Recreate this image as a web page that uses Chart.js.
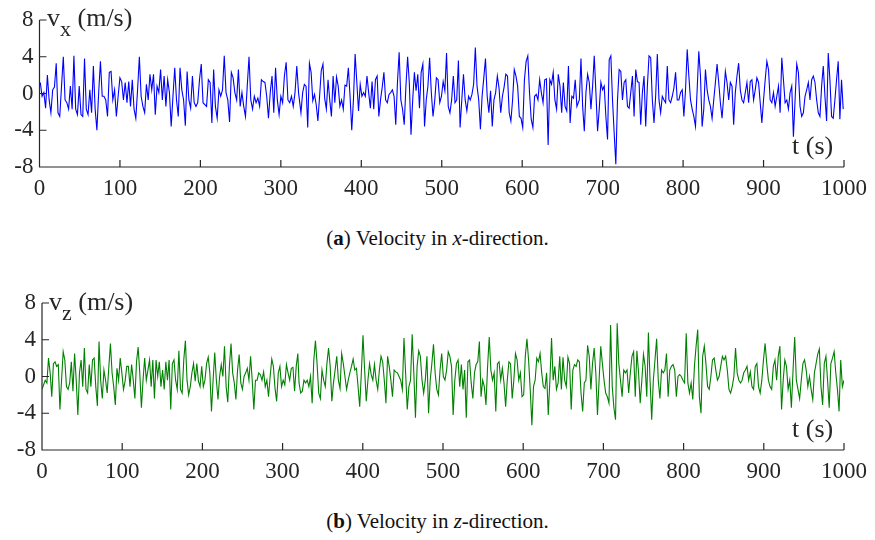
<!DOCTYPE html>
<html>
<head>
<meta charset="utf-8">
<script src="https://cdn.jsdelivr.net/npm/chart.js@4.4.1/dist/chart.umd.min.js"></script>
<style>
  html, body { margin: 0; padding: 0; background: #fff; }
  #wrap { position: relative; width: 875px; height: 540px; overflow: hidden; font-family: "Liberation Serif", serif; color: #262626; }
  canvas { position: absolute; left: 0; }
  .lbl { position: absolute; font-size: 26px; line-height: 26px; white-space: nowrap; }
  .lbl sub { font-size: 22px; vertical-align: -10px; line-height: 0; }
  .cap { position: absolute; left: 0; width: 875px; text-align: center; font-size: 21px; line-height: 22px; color: #111; }
</style>
</head>
<body>
<div id="wrap">
  <canvas id="vxChart" width="875" height="205" style="top:0"></canvas>
  <canvas id="vzChart" width="875" height="205" style="top:283px"></canvas>
  <div class="lbl" style="left:47px; top:5px">v<sub>x</sub> (m/s)</div>
  <div class="lbl" style="left:792px; top:133px">t (s)</div>
  <div class="cap" style="top:227px">(<b>a</b>) Velocity in <i>x</i>-direction.</div>
  <div class="lbl" style="left:49px; top:289px">v<sub>z</sub> (m/s)</div>
  <div class="lbl" style="left:792px; top:416px">t (s)</div>
  <div class="cap" style="top:510px">(<b>b</b>) Velocity in <i>z</i>-direction.</div>
</div>
<script>
// x ticks (s) and y ticks (m/s)
const xTicks = [0, 100, 200, 300, 400, 500, 600, 700, 800, 900, 1000];
const yTicks = [-8, -4, 0, 4, 8];

// vx, in three pieces, each with its time span (s)
const vxSpans = [[1, 322], [325, 668], [671, 999]];
const vx1 = [
  1.2, -0.3, 0.1, -1.6, 2.0, -0.7, -2.1, 0.4, 0.7, 3.3,
  -2.1, -2.5, 0.8, 4.0, -0.7, -1.0, -1.7, 0.8, -1.7, 4.1,
  -1.7, -2.3, 0.8, -2.3, -2.5, 3.8, -1.7, -2.3, 0.4, -2.1,
  3.0, -1.7, -4.0, 0.1, 3.5, -0.3, -0.3, -0.7, -2.5, 2.3,
  2.4, -0.7, 0.4, -2.5, -0.3, 1.7, 1.3, -0.7, 1.2, -1.0,
  1.3, -1.4, 1.5, -1.7, -2.7, 0.4, 4.0, -0.3, -1.4, -2.1,
  1.0, -0.7, 2.1, 0.4, 2.1, -2.3, 0.8, 0.1, 2.6, -0.7,
  1.9, -1.4, 1.5, 0.1, -3.6, -0.3, 2.8, -0.7, -2.5, 2.8,
  0.4, -0.7, -3.5, 2.4, -0.7, -1.6, 1.9, -1.0, -1.4, -1.0,
  1.5, 3.2, -1.0, -1.2, -1.4, 1.5, 1.2, -3.2, 2.6, -1.4,
  -2.7, 0.4, -0.3, 0.4, 4.1, 0.1, -0.7, -3.1, 2.3, 1.7,
  0.1, -0.7, 2.6, -1.4, 0.1, -1.4, -2.5, 0.8, 4.0, -0.7,
  -1.7, -0.3, -1.0, -0.5, -1.4, 1.5, 1.3, 1.2, -0.3, -2.7,
  0.1, 1.9, -2.1, 2.8, -0.7, -2.3, -0.3, -1.0,
  1.9, 3.4, -0.7, -1.0, -0.3, -1.4, 0.1, 3.0, 0.1
];
const vx2 = [
  -2.1, 0.1, 1.0, 0.8, -3.7, 3.3, 2.3, -0.8, -0.1, -1.2,
  -3.0, -0.3, 2.5, 3.2, -0.5, -1.7, 1.5, -0.7, -2.5, 1.9,
  -1.0, 1.8, 0.8, -1.4, -0.7, -1.7, 0.9, 0.8, 2.8, -0.3,
  -4.0, -0.7, 4.3, 1.2, -1.9, 1.0, -0.3, 0.1, -0.3, 1.9,
  0.1, -1.6, 1.3, -1.7, 1.5, 1.9, -2.5, -0.7, 0.7, 2.3,
  -0.7, -1.0, -0.1, 0.1, 0.4, -0.3, -3.4, 1.2, 4.5, -0.7,
  -1.7, -3.4, 0.8, 4.0, 1.2, -4.5, -0.7, 2.3, 0.3, 2.1,
  -1.6, 2.3, 3.2, -3.6, -0.7, 0.8, 3.9, 0.1, -2.5, -0.8,
  1.7, 1.5, -1.0, -0.3, 1.3, 0.3, 4.4, -1.4, -2.1, -0.7,
  1.9, -1.0, -0.7, 3.6, -3.7, -0.7, 2.1, -0.7, -1.9, -0.3,
  -0.7, -0.1, 1.0, 5.0, 0.8, -0.7, -3.9, -0.3, 1.7, 3.8,
  -0.3, -2.1, 0.3, -3.6, -0.7, 0.1, 1.9, 0.6, -2.1, -0.3,
  0.7, 2.1, 1.9, -2.1, -3.0, -0.7, 2.6, 1.9, 0.8, -2.5,
  -2.7, -3.7, 1.5, 3.5, 4.1, 0.1, -2.8, -3.7, -0.3, -0.1,
  -0.7, 1.5, 0.1, -1.0, 1.5, 1.6, -5.6, 1.5, 1.0, 2.3,
  -0.7, -1.7, 2.1, 0.8, -2.1, 1.2, -1.4, -1.9, 3.0, -3.2,
  -0.3, -0.5, 1.5, -1.4
];
const vx3 = [
  -0.7, 3.8, -1.4, -4.1, 0.1, 2.1, 1.2, -1.7, 0.8, 4.1,
  0.1, -4.1, -1.7, 1.2, 0.4, 0.8, -2.5, -5.0, 3.7, 4.1,
  -0.7, -4.3, -7.7, -0.7, 2.6, 2.4, -0.7, 1.2, 1.5, -1.4,
  -1.6, 0.1, 1.9, -2.5, 2.6, 1.3, 1.2, -3.4, 0.1, 1.9,
  -3.6, 0.8, 4.1, 3.9, -0.7, -3.2, -0.3, 4.3, -0.7, -2.1,
  -0.3, -0.7, -1.0, 3.0, -0.7, -1.0, -0.3, 0.6, 2.3, -0.7,
  -0.7, 0.1, 0.4, -2.5, 0.4, 4.8, 1.9, -0.7, -1.7, -2.5,
  -3.6, 0.4, 4.6, 1.9, -3.6, -1.7, 2.6, 0.4, -0.7, -1.4,
  -2.7, -0.7, 1.2, 3.2, 1.2, -1.0, -2.7, -0.3, 2.4, 1.2,
  -0.7, 1.2, 0.8, -3.4, 0.1, 1.9, 3.3, 0.4, -0.7, -1.0,
  0.1, 1.2, -1.0, 1.3, 1.5, -0.7, 0.4, 1.7, 1.2, -1.0,
  -3.2, -0.7, 1.5, 3.5, 2.6, -0.7, -1.0, 0.1, -1.4, -0.3,
  0.8, -2.1, 3.9, 1.5, -1.0, -0.7, -1.7, 0.1, 0.8, -4.7,
  -0.7, 3.2, 2.3, -1.4, -2.5, -2.1, -0.3, 0.4, 1.2, -0.7,
  1.5, 1.9, 1.2, -0.7, -2.1, -2.5, 0.8, 3.0, -0.3, -3.0,
  4.4, 1.5, -2.5, -2.7, -0.7, 1.5, 3.5, -2.8, 1.5, -1.7
];

// vz
const vzSpans = [[0, 319], [320.5, 666], [668, 1000]];
const vz1 = [
  -1.4, -0.9, -0.4, -0.7, 2.0, 0.4, -2.2, 1.4, 1.6, 1.1,
  1.3, -3.6, -0.4, 2.7, 1.8, -1.1, -1.4, -0.7, 1.6, -1.6,
  2.5, -0.4, -4.2, 0.4, 1.8, -1.1, 3.1, -1.4, -1.8, 1.3,
  -1.1, 1.8, 2.0, -1.1, -3.2, 3.8, -0.4, -2.4, 0.7, -0.4,
  -1.8, 1.0, 3.6, 0.4, -1.1, -3.1, 0.9, -0.4, 2.0, 0.4,
  -1.4, -0.5, 1.1, 1.1, -1.1, 1.3, -0.4, -2.4, 1.6, 3.2,
  0.4, -3.4, -0.4, 2.0, -0.4, 0.7, 1.8, -1.1, 1.8, -2.4,
  1.8, 0.0, 1.6, -1.1, 0.7, -1.4, 1.6, -0.4, 1.8, -3.6,
  1.4, 1.8, -0.4, -1.4, 2.8, -1.4, -1.8, 1.8, 3.9, -0.4,
  -2.0, -1.1, 0.4, 1.4, -0.5, 1.4, -0.5, -1.1, 1.1, -1.1,
  -0.4, 1.4, 2.1, 0.4, -3.8, -0.4, 2.6, -0.4, -2.5, 0.0,
  1.3, 0.0, 3.3, -1.1, -2.8, 1.1, 3.6, 0.4, -0.7, -2.5,
  0.7, 2.4, -0.7, -1.4, 0.0, 0.4, 0.9, -0.4, 2.2, -0.4,
  -3.6, -0.4, -0.4, 0.4, 0.2, -0.4, 0.5, -1.1, -0.4, -2.2,
  0.0, 1.9, 1.1, -1.3, -2.7, 0.4, 1.1, -1.1, -0.4, -0.9,
  1.3, 0.4, -0.4, 0.9, 1.0, -1.6, 1.1, 2.5
];
const vz2 = [
  -0.7, -1.8, -1.6, -0.4, -0.7, -0.4, -1.1, 0.0, -2.9, 1.8,
  3.9, 1.4, -1.8, -2.4, 0.7, -0.4, -1.1, 1.4, 3.1, 1.1,
  -2.7, -0.7, 0.7, 2.2, -0.4, -1.3, 2.5, 1.4, 0.0, -1.4,
  -0.4, 0.4, 1.1, 1.9, 0.7, 0.9, -1.1, -3.3, 0.4, 4.5,
  0.7, -2.7, -0.4, 1.4, 0.2, -0.4, 1.3, -0.4, -1.4, 0.7,
  2.2, 1.6, -0.4, -2.9, 2.2, 1.1, -0.4, -2.2, 0.7, 0.5,
  0.4, 0.0, -0.4, -1.4, 4.2, 0.4, -3.6, -1.1, -0.4, 4.6,
  0.4, -4.5, 1.1, 2.8, 2.2, -0.4, -1.8, -0.4, 2.2, -4.0,
  -0.4, 1.4, 3.5, 0.4, -1.4, -2.0, 0.7, 2.5, 0.0, -0.4,
  0.7, 2.7, 2.2, 1.1, -4.2, -0.4, 1.4, 1.8, -1.1, 1.3,
  -1.4, 0.7, -4.5, 1.6, 1.8, -0.7, -2.4, 0.4, 1.3, 1.6,
  3.8, -2.2, -0.4, -1.1, -3.1, 1.1, 4.3, 0.7, -0.4, 0.4,
  -3.8, 1.4, 1.6, -0.4, 0.9, -0.7, -3.3, -0.4, 1.6, 1.4,
  -2.4, -0.4, 2.5, 1.8, -0.4, 0.4, -2.2, -2.0, 2.2, 4.1,
  1.8, -1.4, -5.3, -1.1, -0.4, 2.0, 1.6, 2.5, 0.4, -1.1,
  -1.3, 0.4, -4.2, -0.4, 4.2, -0.4, 1.1, -1.4, -0.7, 2.2,
  -1.4, 2.1, -0.4, -1.1, 2.1, 1.4, -3.6, 0.7, 1.3, 1.1
];
const vz3 = [
  1.8, 1.6, -1.8, -3.8, -0.7, -0.4, 3.4, 2.2, -1.4, 1.4,
  3.1, 0.4, -4.2, -0.4, 3.3, 1.4, -0.4, -1.8, -2.2, -2.9,
  5.6, -1.1, -3.4, -4.7, 5.8, 1.4, -0.4, -2.2, 0.7, 0.4,
  0.7, -1.8, 0.4, 2.2, 2.7, -2.2, 2.8, 0.4, -2.9, -0.4,
  2.4, 1.1, -2.2, 4.8, -0.4, -4.7, -0.4, 1.8, 4.1, -0.4,
  -2.4, 0.7, 0.4, 0.7, 2.5, -2.2, 0.7, 1.1, 1.3, 0.7,
  -2.2, 0.0, 0.2, 0.0, -0.4, -0.7, 4.7, -0.7, -1.8, -0.7,
  -2.5, 1.1, 3.3, 5.1, -2.2, -4.0, 2.2, 3.3, 1.4, -1.1,
  -1.4, 0.0, 1.8, 2.0, 0.7, -0.4, 0.0, 1.1, 2.2, 1.8,
  2.2, 0.7, -1.4, -1.8, -1.1, 0.0, 3.1, 0.4, -0.4, -0.7,
  -0.4, 0.4, 0.7, 1.1, -0.4, 0.5, -1.1, -1.4, 1.1, 1.4,
  -1.1, -1.8, -0.4, 1.8, 3.6, 1.4, -0.4, -1.1, -1.4, 1.1,
  1.8, -0.4, 2.2, 3.3, -3.6, -0.4, 1.8, 1.1, -1.4, -0.4,
  -3.4, 0.7, 4.3, -0.4, -1.4, -2.4, -0.4, 1.4, 1.8, 0.7,
  -1.1, 0.0, -1.4, -2.5, 0.4, 1.4, 2.4, 3.0, -1.1, -3.1,
  1.4, 2.2, -0.4, -3.4, 1.4, 2.0, 2.7, 0.4, -1.4, -3.8,
  1.8, -1.1, -0.4
];

const AXIS_COLOR = '#262626';
const TICK_FONT = { family: 'Liberation Serif', size: 23 };

// spread each piece evenly over its time span
function toPoints(parts, spans) {
  const pts = [];
  parts.forEach((vals, k) => {
    const [a, b] = spans[k];
    const dt = (b - a) / (vals.length - 1);
    vals.forEach((v, i) => pts.push({ x: a + i * dt, y: v }));
  });
  return pts;
}

// axis lines plus short ticks pointing into the plot
const inwardAxes = {
  id: 'inwardAxes',
  afterDatasetsDraw(chart) {
    const { ctx, chartArea, scales } = chart;
    const L = chartArea.left, B = chartArea.bottom;
    ctx.save();
    ctx.strokeStyle = AXIS_COLOR;
    ctx.lineWidth = 1.2;
    ctx.beginPath();
    ctx.moveTo(L, chartArea.top);
    ctx.lineTo(L, B);
    ctx.lineTo(chartArea.right, B);
    scales.x.ticks.forEach(t => {
      const px = scales.x.getPixelForValue(t.value);
      ctx.moveTo(px, B);
      ctx.lineTo(px, B - 7);
    });
    scales.y.ticks.forEach(t => {
      const py = scales.y.getPixelForValue(t.value);
      ctx.moveTo(L, py);
      ctx.lineTo(L + 7, py);
    });
    ctx.stroke();
    ctx.restore();
  }
};

function makeChart(id, pts, color, leftW, padRight) {
  return new Chart(document.getElementById(id), {
    type: 'line',
    data: {
      datasets: [{
        data: pts,
        borderColor: color,
        borderWidth: 1.1,
        pointRadius: 0,
        tension: 0,
        fill: false
      }]
    },
    options: {
      responsive: false,
      animation: false,
      devicePixelRatio: 1,
      layout: { padding: { top: 20, right: padRight, bottom: 0, left: 0 } },
      plugins: { legend: { display: false }, tooltip: { enabled: false } },
      scales: {
        x: {
          type: 'linear',
          min: xTicks[0],
          max: xTicks[xTicks.length - 1],
          afterBuildTicks: s => { s.ticks = xTicks.map(v => ({ value: v })); },
          afterFit: s => { s.height = 38; },
          grid: { display: false, drawTicks: false },
          border: { display: false },
          ticks: { color: AXIS_COLOR, font: TICK_FONT, padding: 8, maxRotation: 0, autoSkip: false,
                   callback: v => String(v) }
        },
        y: {
          min: yTicks[0],
          max: yTicks[yTicks.length - 1],
          afterBuildTicks: s => { s.ticks = yTicks.map(v => ({ value: v })); },
          afterFit: s => { s.width = leftW; },
          grid: { display: false, drawTicks: false },
          border: { display: false },
          ticks: { color: AXIS_COLOR, font: TICK_FONT, padding: 6, callback: v => String(v) }
        }
      }
    },
    plugins: [inwardAxes]
  });
}

makeChart('vxChart', toPoints([vx1, vx2, vx3], vxSpans), '#0000ff', 39.5, 29.5);
makeChart('vzChart', toPoints([vz1, vz2, vz3], vzSpans), '#008000', 42, 27);
</script>
</body>
</html>
